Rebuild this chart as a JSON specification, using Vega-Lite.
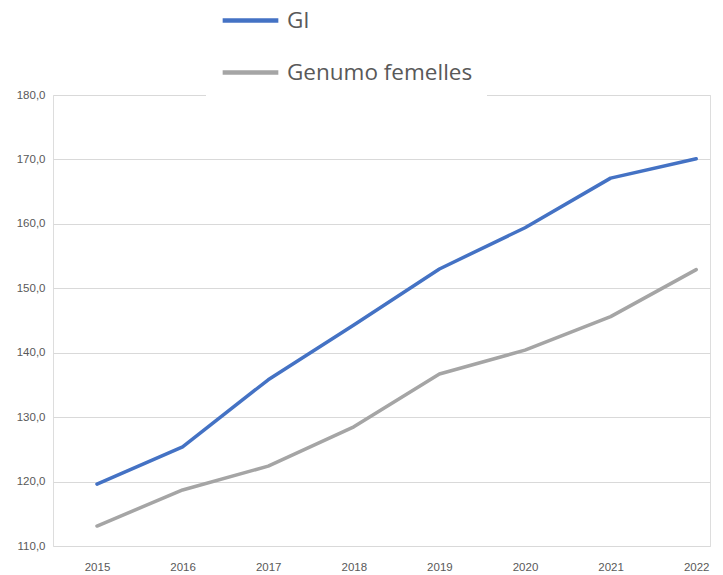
{
  "$schema": "https://vega.github.io/schema/vega-lite/v6.json",
  "width": 657,
  "height": 451,
  "autosize": {"type": "none"},
  "padding": {"left": 53, "top": 95, "right": 13, "bottom": 29},
  "background": "white",
  "data": {
    "values": [
      {"year": 2015, "series": "GI", "value": 119.6},
      {"year": 2016, "series": "GI", "value": 125.4},
      {"year": 2017, "series": "GI", "value": 135.8},
      {"year": 2018, "series": "GI", "value": 144.3},
      {"year": 2019, "series": "GI", "value": 153.0},
      {"year": 2020, "series": "GI", "value": 159.4},
      {"year": 2021, "series": "GI", "value": 167.1},
      {"year": 2022, "series": "GI", "value": 170.1},
      {"year": 2015, "series": "Genumo femelles", "value": 113.1},
      {"year": 2016, "series": "Genumo femelles", "value": 118.7},
      {"year": 2017, "series": "Genumo femelles", "value": 122.4},
      {"year": 2018, "series": "Genumo femelles", "value": 128.5},
      {"year": 2019, "series": "Genumo femelles", "value": 136.7},
      {"year": 2020, "series": "Genumo femelles", "value": 140.4},
      {"year": 2021, "series": "Genumo femelles", "value": 145.6},
      {"year": 2022, "series": "Genumo femelles", "value": 152.9}
    ]
  },
  "mark": {"type": "line", "strokeWidth": 3.5, "strokeCap": "round", "strokeJoin": "round"},
  "encoding": {
    "x": {
      "field": "year",
      "type": "quantitative",
      "scale": {"domain": [2014.486, 2022.161], "nice": false, "zero": false},
      "axis": {
        "title": null,
        "values": [2015, 2016, 2017, 2018, 2019, 2020, 2021, 2022],
        "format": "d",
        "grid": false,
        "domain": false,
        "ticks": false,
        "labelPadding": 15,
        "labelFontSize": 11.5,
        "labelFont": "Liberation Sans",
        "labelColor": "#595959"
      }
    },
    "y": {
      "field": "value",
      "type": "quantitative",
      "scale": {"domain": [110, 180], "nice": false, "zero": false},
      "axis": {
        "title": null,
        "values": [110, 120, 130, 140, 150, 160, 170, 180],
        "labelExpr": "replace(format(datum.value, '.1f'), '.', ',')",
        "grid": true,
        "gridColor": "#D9D9D9",
        "gridWidth": 1,
        "domain": false,
        "ticks": false,
        "labelPadding": 8,
        "labelFontSize": 11.5,
        "labelFont": "Liberation Sans",
        "labelColor": "#595959"
      }
    },
    "color": {
      "field": "series",
      "type": "nominal",
      "sort": ["GI", "Genumo femelles"],
      "scale": {"domain": ["GI", "Genumo femelles"], "range": ["#4472C4", "#A5A5A5"]},
      "legend": {
        "title": null,
        "orient": "none",
        "legendX": 153,
        "legendY": -119,
        "direction": "vertical",
        "fillColor": "white",
        "padding": 14,
        "symbolType": "stroke",
        "symbolSize": 3100,
        "symbolStrokeWidth": 4.5,
        "labelFontSize": 22.5,
        "labelFont": "Open Sans",
        "labelColor": "#595959",
        "labelOffset": 6,
        "labelLimit": 400,
        "rowPadding": 10
      }
    }
  }
}
